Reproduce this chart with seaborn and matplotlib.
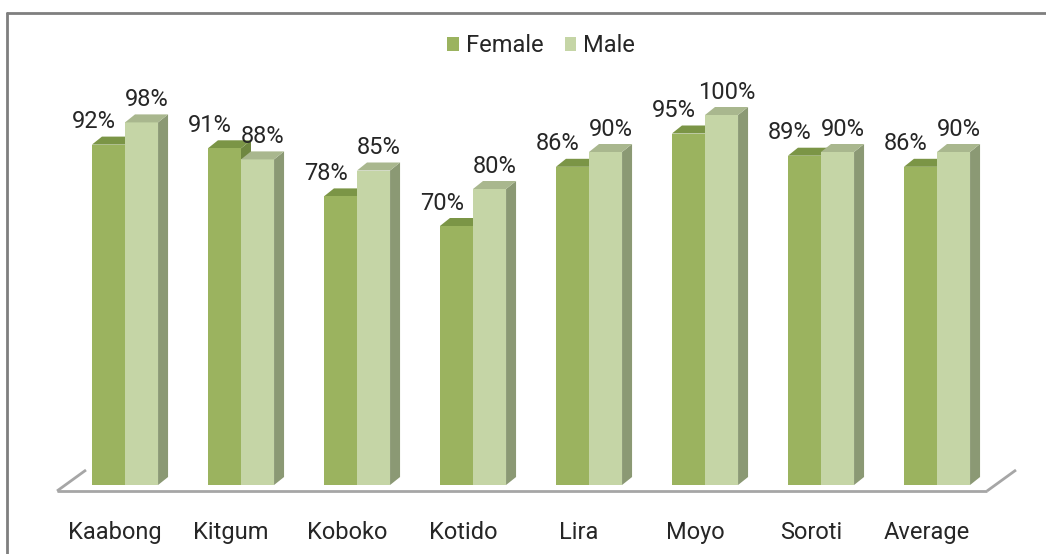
import numpy as np
import pandas as pd
import matplotlib
matplotlib.use("Agg")
import matplotlib.pyplot as plt
from matplotlib.patches import Polygon
from matplotlib.lines import Line2D
from matplotlib.transforms import ScaledTranslation
import seaborn as sns

districts = ["Kaabong", "Kitgum", "Koboko", "Kotido", "Lira", "Moyo", "Soroti", "Average"]
female = [92, 91, 78, 70, 86, 95, 89, 86]
male = [98, 88, 85, 80, 90, 100, 90, 90]

df = pd.DataFrame({
    "district": districts * 2,
    "value": female + male,
    "sex": ["Female"] * len(districts) + ["Male"] * len(districts),
})

front = {"Female": "#9bb35f", "Male": "#c5d5a6"}
top = {"Female": "#7b9546", "Male": "#a9b78e"}
side = {"Female": "#6f8740", "Male": "#8b9974"}

sns.set_style("white")
plt.rcParams["font.family"] = ["Roboto", "DejaVu Sans"]

fig = plt.figure(figsize=(10.46, 5.54), dpi=100)
# axes in pixel terms: x 57..987, baseline at y=485 (from top), 3.7 px per %
ax = fig.add_axes([57 / 1046, 69 / 554, 930 / 1046, 407 / 554])

sns.barplot(data=df, x="district", y="value", hue="sex",
            palette=[front["Female"], front["Male"]],
            width=0.57, saturation=1, ax=ax, zorder=2,
            edgecolor="none", linewidth=0)

xmin = -68 / 116
ax.set_xlim(xmin, xmin + 930 / 116)
ax.set_ylim(0, 110)

# 3d depth in data units
dx = 10 / 116
dy = 8 / 3.7

for cont, sex in zip(ax.containers, ["Female", "Male"]):
    z = 1 if sex == "Female" else 3
    for bar, val in zip(cont.patches, female if sex == "Female" else male):
        x0 = bar.get_x()
        x1 = x0 + bar.get_width()
        h = bar.get_height()
        ax.add_patch(Polygon([(x1, 0), (x1, h), (x1 + dx, h + dy), (x1 + dx, dy)],
                             closed=True, facecolor=side[sex], edgecolor="none",
                             zorder=z, clip_on=False))
        ax.add_patch(Polygon([(x0, h), (x1, h), (x1 + dx, h + dy), (x0 + dx, h + dy)],
                             closed=True, facecolor=top[sex], edgecolor="none",
                             zorder=z + 0.5, clip_on=False))
        if sex == "Female":
            lx = x0 + 2 / 116
        else:
            lx = (x0 + x1 + dx) / 2
        ax.text(lx, h + dy + 0.9, f"{val}%", ha="center", va="bottom",
                fontsize=17, color="#262626", zorder=5)

# floor
fy = -6 / 3.7
bx = 29 / 116
by = 21 / 3.7
lo, hi = ax.get_xlim()
floor_kw = dict(color="#a6a6a6", lw=2, clip_on=False, zorder=0.5, solid_capstyle="butt")
ax.plot([lo, hi], [fy, fy], **floor_kw)
ax.plot([lo, lo + bx], [fy, fy + by], **floor_kw)
ax.plot([hi, hi + bx], [fy, fy + by], **floor_kw)

for s in ax.spines.values():
    s.set_visible(False)
ax.set_yticks([])
ax.set_xlabel("")
ax.set_ylabel("")
ax.tick_params(axis="x", length=0, pad=26, labelsize=17, labelcolor="#262626")
shift = ScaledTranslation(-10 / 100, 0, fig.dpi_scale_trans)
for lbl in ax.get_xticklabels():
    lbl.set_transform(lbl.get_transform() + shift)

ax.legend(loc="center", bbox_to_anchor=(541 / 1046, 1 - 46 / 554),
          bbox_transform=fig.transFigure, ncol=2, frameon=False,
          fontsize=17, handlelength=0.5, handleheight=0.5,
          handletextpad=0.3, columnspacing=0.9, labelcolor="#262626")

# outer frame (top and left only)
fig.add_artist(Line2D([7 / 1046, 1], [1 - 13 / 554, 1 - 13 / 554],
                      transform=fig.transFigure, color="#7f7f7f", lw=2))
fig.add_artist(Line2D([7 / 1046, 7 / 1046], [0, 1 - 13 / 554],
                      transform=fig.transFigure, color="#7f7f7f", lw=2))

fig.savefig("out.png", dpi=100)
